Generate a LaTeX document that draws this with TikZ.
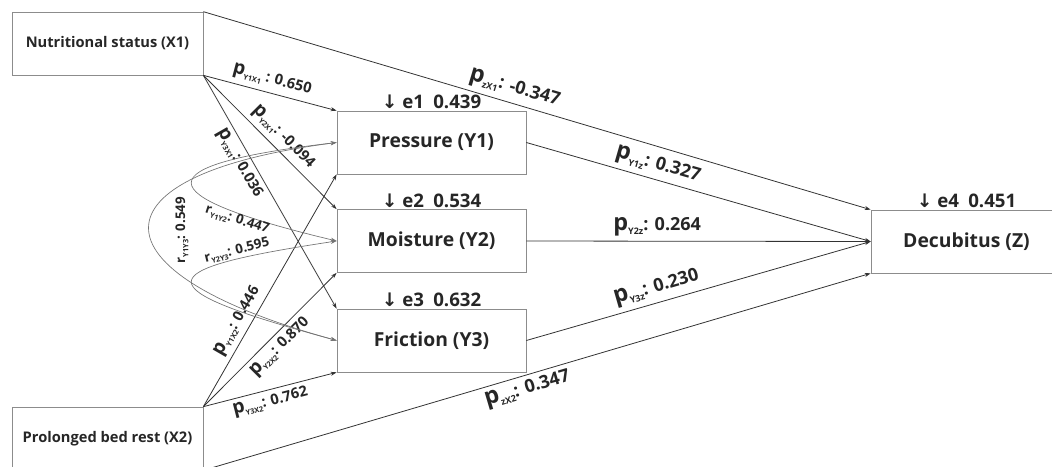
\documentclass[tikz,border=0pt]{standalone}
\usepackage{fontspec}
\setmainfont{Open Sans}
\newfontfamily\arrowfont{DejaVu Sans}
\usetikzlibrary{positioning,arrows.meta}

\newcommand{\pcoef}[1]{\scalebox{1.3}{p}\raisebox{-0.45ex}{\scalebox{0.5}{#1}}}
\newcommand{\rcoef}[1]{r\raisebox{-0.45ex}{\scalebox{0.55}{#1}}}
\newcommand{\darr}{{\arrowfont\bfseries ↓}}

\begin{document}
\begin{tikzpicture}[x=0.75pt, y=-0.75pt, >={Stealth[length=4.5pt, width=3pt]}]
	\tikzstyle{var}    = [rectangle, draw=black!45, line width=0.5pt, minimum width=143.25pt, minimum height=47.25pt, inner sep=0pt, text=black!85, font=\bfseries\fontsize{11}{13}\selectfont]
	\tikzstyle{effect} = [->, draw=black!80, line width=0.6pt]
	\tikzstyle{corr}   = [<->, draw=black!55, line width=0.5pt]
	\tikzstyle{plab}   = [inner sep=3.5pt, text=black!85, font=\bfseries\fontsize{11}{13}\selectfont]
	\tikzstyle{plabbig} = [plab, font=\bfseries\fontsize{13.5}{15}\selectfont]
	\tikzstyle{rlab}   = [inner sep=1pt, text=black!85, font=\bfseries\fontsize{10}{12}\selectfont]
	\tikzstyle{elab}   = [inner sep=1pt, text=black!85, font=\bfseries\fontsize{14}{16}\selectfont]

%	\draw[step=50, gray!50] (0,0) grid (1052,467);

	\useasboundingbox (0,0) rectangle (1052,467);

	\node[var] (x1) at (107.5, 43.5) {Nutritional status (X1)};
	\node[var] (x2) at (107.5, 438.5) {Prolonged bed rest (X2)};

	\foreach \name/\y/\text in {y1/142.5/{Pressure (Y1)}, y2/241/{Moisture (Y2)}, y3/340.5/{Friction (Y3)}}
		\node[var, minimum width=141.75pt, font=\bfseries\fontsize{14.5}{16}\selectfont] (\name) at (431.5, \y) {\text};

	\node[var, font=\bfseries\fontsize{14.5}{16}\selectfont] (z) at (966.5, 241.5) {Decubitus (Z)};

	\foreach \src/\i/\val in {y1/1/0.439, y2/2/0.534, y3/3/0.632, z/4/0.451}
		\node[elab, above=0pt of \src] (e\i) {\darr\ e\i\enspace\val};

	\foreach \to/\p/\side/\lab in {y1/0.49/above/{\pcoef{Y1X1} : 0.650}, y2/0.53/above/{\pcoef{Y2X1}: -0.094}, y3/0.35/below/{\pcoef{Y3X1}: 0.036}}
		\draw[effect] (x1.south east) -- (\to.north west) node[plab, sloped, pos=\p, \side] {\lab};

	\foreach \to/\p/\side/\lab in {y1/0.34/above/{\pcoef{Y1X2}: 0.446}, y2/0.51/below/{\pcoef{Y2X2}: 0.870}, y3/0.48/below/{\pcoef{Y3X2}: 0.762}}
		\draw[effect] (x2.north east) -- (\to.south west) node[plab, sloped, pos=\p, \side] {\lab};

	\foreach \from/\p/\lab in {y1/0.37/{\pcoef{Y1z}: 0.327}, y2/0.38/{\pcoef{Y2z}: 0.264}, y3/0.39/{\pcoef{Y3z}: 0.230}}
		\draw[effect] (\from.east) -- (z.west) node[plabbig, sloped, pos=\p, above] {\lab};

	\draw[effect] (x1.north east) -- (z.north west) node[plabbig, sloped, pos=0.46, above] {\pcoef{zX1}: -0.347};
	\draw[effect] (x2.south east) -- (z.south west) node[plabbig, sloped, pos=0.48, below] {\pcoef{zX2}: 0.347};

	\draw[corr] (y1.west) .. controls (144,165) and (144,195) .. (y2.west);
	\draw[corr] (y3.west) .. controls (144,288) and (144,270) .. (y2.west);
	\draw[corr] (y3.west) .. controls (87,272) and (87,175) .. (y1.west);

	\node[rlab, rotate=90] (r13) at (182,230) {\rcoef{Y1Y3}: 0.549};
	\node[rlab, rotate=-18] (r12) at (237,220) {\rcoef{Y1Y2}: 0.447};
	\node[rlab, rotate=14] (r23) at (237,251) {\rcoef{Y2Y3}: 0.595};
\end{tikzpicture}
\end{document}
